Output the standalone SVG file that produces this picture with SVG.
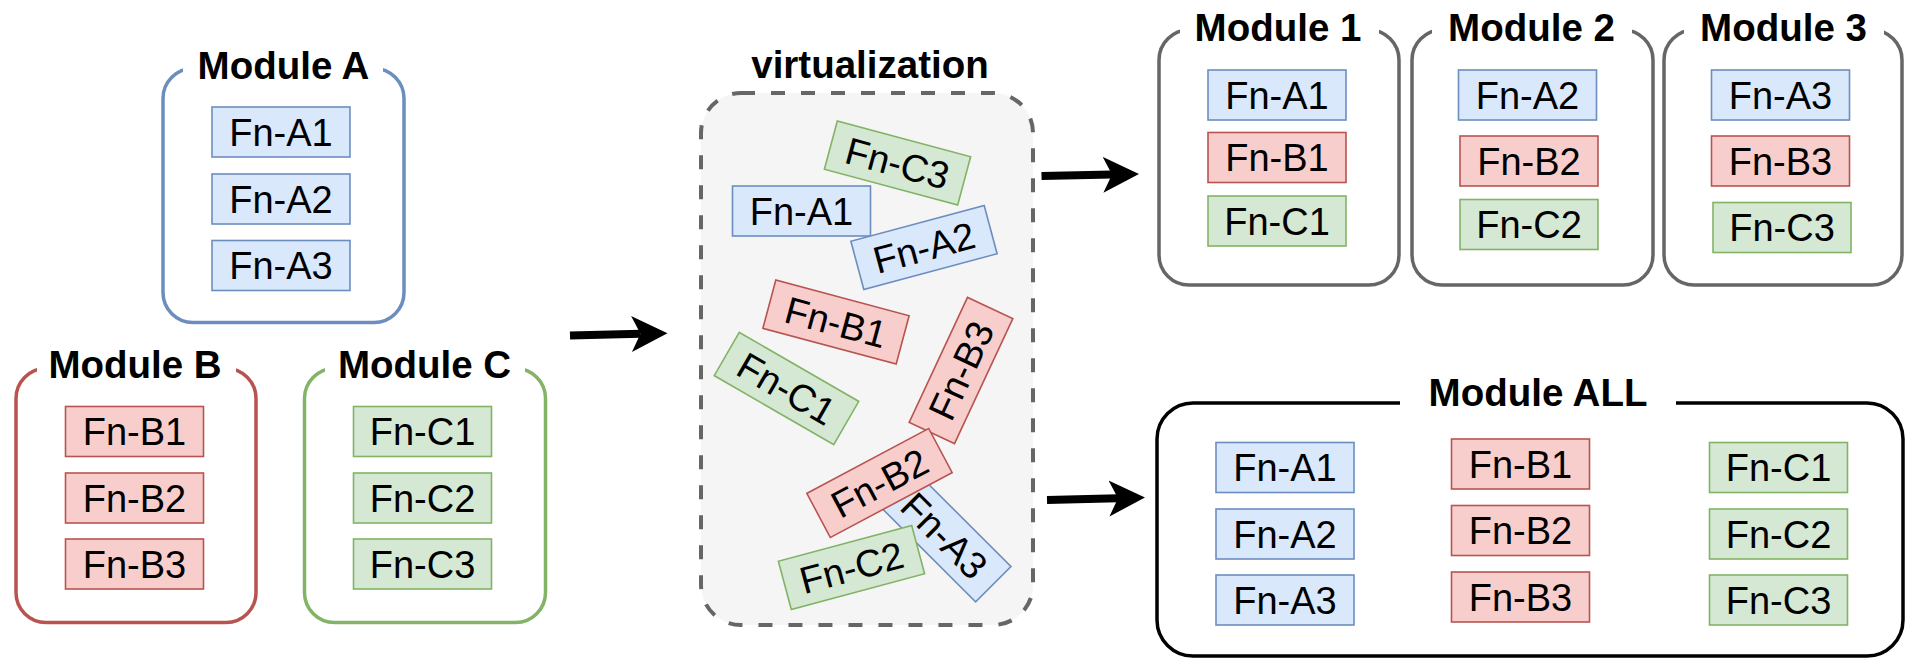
<svg xmlns="http://www.w3.org/2000/svg" width="1905" height="658" viewBox="0 0 1905 658">
  <style>
    .fn text { font-family: "Liberation Sans", Arial, Helvetica, sans-serif; font-size: 38px; text-anchor: middle; fill: #000; }
    .fn rect { stroke-width: 1.6; }
    .fa rect { fill: #dae8fc; stroke: #6c8ebf; }
    .fb rect { fill: #f8cecc; stroke: #b85450; }
    .fc rect { fill: #d5e8d4; stroke: #82b366; }
    .title { font-family: "Liberation Sans", Arial, Helvetica, sans-serif; font-weight: bold; font-size: 38.5px; text-anchor: middle; fill: #000; }
    .gap { fill: #ffffff; stroke: none; }
    .frame { fill: #ffffff; stroke-width: 3.5; }
    .link { fill: none; stroke: #000; stroke-width: 8; marker-end: url(#head); }
  </style>
  <defs>
    <marker id="head" markerUnits="userSpaceOnUse" markerWidth="40" markerHeight="40" viewBox="0 -20 40 40" refX="9" refY="0" orient="auto">
      <path d="M0,-18 L36,0 L0,18 L9,0 Z" fill="#000"/>
    </marker>
  </defs>
  <rect width="1905" height="658" fill="#ffffff"/>

  <!-- Module A -->
  <g id="module-a">
    <rect class="frame" x="163" y="68.5" width="241" height="254" rx="30" stroke="#6c8ebf"/>
    <rect class="gap" x="183" y="58" width="200" height="20"/>
    <text class="title" x="283.5" y="78.5">Module A</text>
    <g id="a-fn-a1" class="fn fa" transform="translate(281,132)"><rect x="-69" y="-25" width="138" height="50"/><text y="13.5">Fn-A1</text></g>
    <g id="a-fn-a2" class="fn fa" transform="translate(281,199)"><rect x="-69" y="-25" width="138" height="50"/><text y="13.5">Fn-A2</text></g>
    <g id="a-fn-a3" class="fn fa" transform="translate(281,265.5)"><rect x="-69" y="-25" width="138" height="50"/><text y="13.5">Fn-A3</text></g>
  </g>

  <!-- Module B -->
  <g id="module-b">
    <rect class="frame" x="16" y="368.5" width="240" height="254" rx="30" stroke="#b85450"/>
    <rect class="gap" x="37" y="358" width="199" height="20"/>
    <text class="title" x="135" y="377.5">Module B</text>
    <g id="b-fn-b1" class="fn fb" transform="translate(134.5,431.5)"><rect x="-69" y="-25" width="138" height="50"/><text y="13.5">Fn-B1</text></g>
    <g id="b-fn-b2" class="fn fb" transform="translate(134.5,498)"><rect x="-69" y="-25" width="138" height="50"/><text y="13.5">Fn-B2</text></g>
    <g id="b-fn-b3" class="fn fb" transform="translate(134.5,564)"><rect x="-69" y="-25" width="138" height="50"/><text y="13.5">Fn-B3</text></g>
  </g>

  <!-- Module C -->
  <g id="module-c">
    <rect class="frame" x="304.5" y="368.5" width="241" height="254" rx="30" stroke="#82b366"/>
    <rect class="gap" x="325" y="358" width="200" height="20"/>
    <text class="title" x="424.5" y="377.5">Module C</text>
    <g id="c-fn-c1" class="fn fc" transform="translate(422.5,431.5)"><rect x="-69" y="-25" width="138" height="50"/><text y="13.5">Fn-C1</text></g>
    <g id="c-fn-c2" class="fn fc" transform="translate(422.5,498)"><rect x="-69" y="-25" width="138" height="50"/><text y="13.5">Fn-C2</text></g>
    <g id="c-fn-c3" class="fn fc" transform="translate(422.5,564)"><rect x="-69" y="-25" width="138" height="50"/><text y="13.5">Fn-C3</text></g>
  </g>

  <!-- Virtualization pool: functions scattered at random angles -->
  <g id="virtualization">
    <rect x="701" y="93" width="332" height="532" rx="40" fill="#f5f5f5" stroke="#666666" stroke-width="4" stroke-dasharray="14 16"/>
    <text class="title" x="870" y="77.5">virtualization</text>
    <g id="v-fn-a3" class="fn fa" transform="translate(944.5,535.5) rotate(45)"><rect x="-69" y="-25" width="138" height="50"/><text y="13.5">Fn-A3</text></g>
    <g id="v-fn-c3" class="fn fc" transform="translate(897.5,163) rotate(15)"><rect x="-69" y="-25" width="138" height="50"/><text y="13.5">Fn-C3</text></g>
    <g id="v-fn-a1" class="fn fa" transform="translate(801.5,211)"><rect x="-69" y="-25" width="138" height="50"/><text y="13.5">Fn-A1</text></g>
    <g id="v-fn-a2" class="fn fa" transform="translate(924,247.5) rotate(-15)"><rect x="-69" y="-25" width="138" height="50"/><text y="13.5">Fn-A2</text></g>
    <g id="v-fn-b1" class="fn fb" transform="translate(836,322) rotate(15)"><rect x="-69" y="-25" width="138" height="50"/><text y="13.5">Fn-B1</text></g>
    <g id="v-fn-c1" class="fn fc" transform="translate(786.5,388.5) rotate(30)"><rect x="-69" y="-25" width="138" height="50"/><text y="13.5">Fn-C1</text></g>
    <g id="v-fn-b3" class="fn fb" transform="translate(961,370.5) rotate(-65)"><rect x="-69" y="-25" width="138" height="50"/><text y="13.5">Fn-B3</text></g>
    <g id="v-fn-b2" class="fn fb" transform="translate(879.5,483) rotate(-28)"><rect x="-69" y="-25" width="138" height="50"/><text y="13.5">Fn-B2</text></g>
    <g id="v-fn-c2" class="fn fc" transform="translate(851.5,567.5) rotate(-15)"><rect x="-69" y="-25" width="138" height="50"/><text y="13.5">Fn-C2</text></g>
  </g>

  <!-- Module 1 -->
  <g id="module-1">
    <rect class="frame" x="1159" y="30" width="240" height="255" rx="30" stroke="#666666"/>
    <rect class="gap" x="1180" y="18" width="199" height="22"/>
    <text class="title" x="1278" y="40.5">Module 1</text>
    <g id="m1-fn-a1" class="fn fa" transform="translate(1277,95)"><rect x="-69" y="-25" width="138" height="50"/><text y="13.5">Fn-A1</text></g>
    <g id="m1-fn-b1" class="fn fb" transform="translate(1277,157.5)"><rect x="-69" y="-25" width="138" height="50"/><text y="13.5">Fn-B1</text></g>
    <g id="m1-fn-c1" class="fn fc" transform="translate(1277,221)"><rect x="-69" y="-25" width="138" height="50"/><text y="13.5">Fn-C1</text></g>
  </g>

  <!-- Module 2 -->
  <g id="module-2">
    <rect class="frame" x="1412" y="30" width="241" height="255" rx="30" stroke="#666666"/>
    <rect class="gap" x="1432" y="18" width="200" height="22"/>
    <text class="title" x="1531.5" y="40.5">Module 2</text>
    <g id="m2-fn-a2" class="fn fa" transform="translate(1527.5,95)"><rect x="-69" y="-25" width="138" height="50"/><text y="13.5">Fn-A2</text></g>
    <g id="m2-fn-b2" class="fn fb" transform="translate(1529,161)"><rect x="-69" y="-25" width="138" height="50"/><text y="13.5">Fn-B2</text></g>
    <g id="m2-fn-c2" class="fn fc" transform="translate(1529,224.5)"><rect x="-69" y="-25" width="138" height="50"/><text y="13.5">Fn-C2</text></g>
  </g>

  <!-- Module 3 -->
  <g id="module-3">
    <rect class="frame" x="1664" y="30" width="238" height="255" rx="30" stroke="#666666"/>
    <rect class="gap" x="1684" y="18" width="200" height="22"/>
    <text class="title" x="1783.5" y="40.5">Module 3</text>
    <g id="m3-fn-a3" class="fn fa" transform="translate(1780.5,95)"><rect x="-69" y="-25" width="138" height="50"/><text y="13.5">Fn-A3</text></g>
    <g id="m3-fn-b3" class="fn fb" transform="translate(1780.5,161)"><rect x="-69" y="-25" width="138" height="50"/><text y="13.5">Fn-B3</text></g>
    <g id="m3-fn-c3" class="fn fc" transform="translate(1782,227.5)"><rect x="-69" y="-25" width="138" height="50"/><text y="13.5">Fn-C3</text></g>
  </g>

  <!-- Module ALL -->
  <g id="module-all">
    <rect class="frame" x="1157" y="403" width="746" height="253" rx="36" stroke="#000000" stroke-width="3"/>
    <rect class="gap" x="1400" y="390" width="276" height="20"/>
    <text class="title" x="1538" y="405.5">Module ALL</text>
    <g id="all-fn-a1" class="fn fa" transform="translate(1285,467.5)"><rect x="-69" y="-25" width="138" height="50"/><text y="13.5">Fn-A1</text></g>
    <g id="all-fn-a2" class="fn fa" transform="translate(1285,534)"><rect x="-69" y="-25" width="138" height="50"/><text y="13.5">Fn-A2</text></g>
    <g id="all-fn-a3" class="fn fa" transform="translate(1285,600)"><rect x="-69" y="-25" width="138" height="50"/><text y="13.5">Fn-A3</text></g>
    <g id="all-fn-b1" class="fn fb" transform="translate(1520.5,464)"><rect x="-69" y="-25" width="138" height="50"/><text y="13.5">Fn-B1</text></g>
    <g id="all-fn-b2" class="fn fb" transform="translate(1520.5,530.5)"><rect x="-69" y="-25" width="138" height="50"/><text y="13.5">Fn-B2</text></g>
    <g id="all-fn-b3" class="fn fb" transform="translate(1520.5,597)"><rect x="-69" y="-25" width="138" height="50"/><text y="13.5">Fn-B3</text></g>
    <g id="all-fn-c1" class="fn fc" transform="translate(1778.5,467.5)"><rect x="-69" y="-25" width="138" height="50"/><text y="13.5">Fn-C1</text></g>
    <g id="all-fn-c2" class="fn fc" transform="translate(1778.5,534)"><rect x="-69" y="-25" width="138" height="50"/><text y="13.5">Fn-C2</text></g>
    <g id="all-fn-c3" class="fn fc" transform="translate(1778.5,600)"><rect x="-69" y="-25" width="138" height="50"/><text y="13.5">Fn-C3</text></g>
  </g>

  <!-- Connectors -->
  <g id="connectors">
    <path id="to-virtualization" class="link" d="M570,335.5 L640.5,333.8"/>
    <path id="to-modules-123" class="link" d="M1041.5,176 L1112,174.5"/>
    <path id="to-module-all" class="link" d="M1047,500 L1118,498.2"/>
  </g>
</svg>
